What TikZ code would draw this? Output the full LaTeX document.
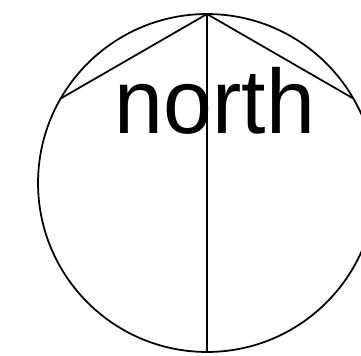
\documentclass[tikz,border=0pt]{standalone}
\usepackage{fontspec}
\setmainfont{Liberation Sans}
\usetikzlibrary{positioning}

\begin{document}
\begin{tikzpicture}[
  x=0.02cm, y=-0.02cm,
  ring/.style={draw, circle, line width=1pt, minimum size=6.76cm,
               inner sep=0pt, outer sep=0pt},
  chord/.style={draw, line width=1pt},
  tag/.style={font=\fontsize{50}{60}\selectfont, inner sep=0pt, anchor=base,
              yscale=1.04}
]
  \useasboundingbox (0,0) rectangle (361,355);
  \clip (0,0) rectangle (361,355);

  \node[ring] (disc) at (207,183) {};
  \node[tag]  (name) at (215,133) {north};

  \path[chord] (disc.north) -- (disc.south);
  \path[chord] (disc.north) -- (disc.150);
  \path[chord] (disc.north) -- (disc.30);
\end{tikzpicture}
\end{document}
